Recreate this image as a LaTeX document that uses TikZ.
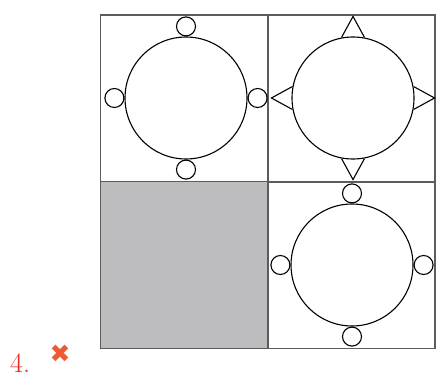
\documentclass[tikz,border=0pt]{standalone}
\usepackage{fontspec}
\newfontfamily\symfont{DejaVu Sans}
\usetikzlibrary{positioning,calc}
\definecolor{gridgray}{HTML}{5C5C5C}
\definecolor{cellgray}{HTML}{BDBDC0}
\definecolor{markred}{HTML}{E8261E}
\definecolor{crossred}{HTML}{EE5A36}

\begin{document}
\begin{tikzpicture}[x=1pt,y=-1pt,
  cell/.style={draw=gridgray, line width=1.5pt, minimum size=167pt,
               inner sep=0pt, outer sep=0pt},
  ring/.style={circle, draw, line width=1.1pt, minimum size=122pt, inner sep=0pt},
  knob/.style={circle, draw, line width=1.1pt, minimum size=19pt,
               inner sep=0pt, fill=white},
  spike/.style={draw, line width=1.1pt, line join=miter},
  font=\small
]
\useasboundingbox (0,0) rectangle (446,382);

% Grid cells
\node[cell] (TL) at (184,98.5) {};
\node[cell] (TR) at (351.5,98.5) {};
\node[cell, fill=cellgray] (BL) at (184,265) {};
\node[cell] (BR) at (351.5,265) {};

% Top left: ring with round knobs
\node[ring] (ringTL) at (186,98) {};
\node[knob, above=0pt of ringTL] (TLn) {};
\node[knob, below=0pt of ringTL] (TLs) {};
\node[knob, left=0pt of ringTL]  (TLw) {};
\node[knob, right=0pt of ringTL] (TLe) {};

% Top right: ring with spikes
\node[ring] (ringTR) at (353,98) {};
\draw[spike] ($(ringTR.north)+(-11.5,1)$) -- ++(11.5,-21) -- ++(11.5,21);
\draw[spike] ($(ringTR.south)+(-11.5,-1)$) -- ++(11.5,21) -- ++(11.5,-21);
\draw[spike] ($(ringTR.west)+(1,-11.5)$) -- ++(-21,11.5) -- ++(21,11.5);
\draw[spike] ($(ringTR.east)+(-1,-11.5)$) -- ++(21,11.5) -- ++(-21,11.5);

% Bottom right: ring with round knobs
\node[ring] (ringBR) at (352,265) {};
\node[knob, above=0pt of ringBR] (BRn) {};
\node[knob, below=0pt of ringBR] (BRs) {};
\node[knob, left=0pt of ringBR]  (BRw) {};
\node[knob, right=0pt of ringBR] (BRe) {};

% Answer mark
\node[text=markred, font=\fontsize{28}{30}\selectfont, anchor=base west,
      inner sep=0pt] (num) at (10,372) {4.};
\node[text=crossred, font=\symfont\fontsize{25}{26}\selectfont, inner sep=0pt,
      anchor=center] (cross) at (60,354) {✖};
\end{tikzpicture}
\end{document}
